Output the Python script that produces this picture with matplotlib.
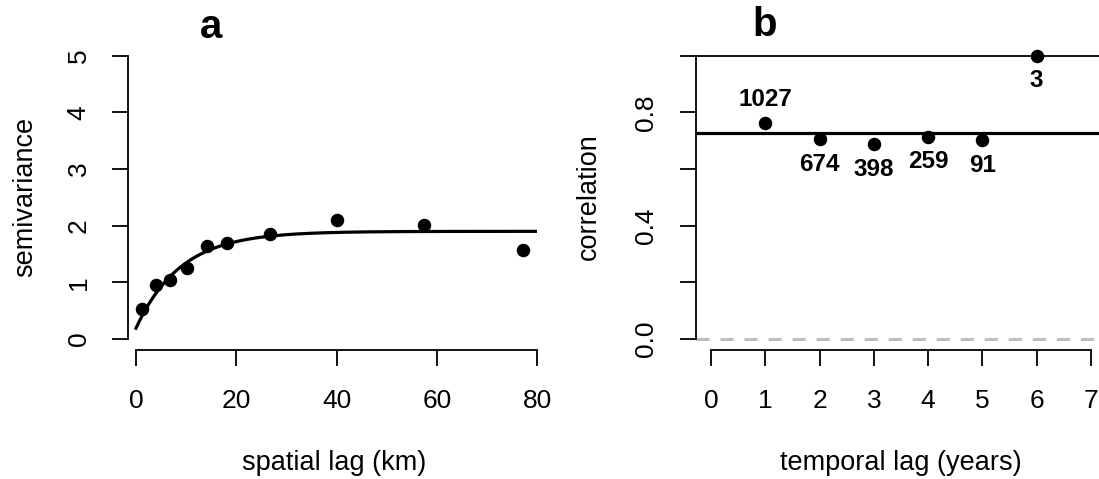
import numpy as np
import matplotlib; matplotlib.use("Agg"); import matplotlib.pyplot as plt

# panel a: empirical semivariogram + exponential model fit
dist_km = [1.3, 4.0, 6.7, 10.2, 14.1, 18.1, 26.8, 40.0, 57.4, 77.1]
semivar = [0.53, 0.96, 1.04, 1.25, 1.65, 1.70, 1.86, 2.10, 2.02, 1.57]
nugget, psill, range_km = 0.19, 1.71, 8.9

# panel b: correlation by temporal lag, with number of pairs
lag_years = [1, 2, 3, 4, 5, 6]
corr = [0.761, 0.706, 0.687, 0.714, 0.702, 1.0]
n_pairs = [1027, 674, 398, 259, 91, 3]
mean_corr = 0.728

W, H = 1099, 479
plt.rcParams.update({"font.family": ["Liberation Sans", "DejaVu Sans"],
                     "lines.scale_dashes": False})
fig = plt.figure(figsize=(W/100, H/100), dpi=100)

def box(l, t, r, b):  # pixel box -> figure fraction
    return [l/W, 1-b/H, (r-l)/W, (b-t)/H]

def style(ax):
    for s in ("top", "right"): ax.spines[s].set_visible(False)
    for s in ("left", "bottom"): ax.spines[s].set_linewidth(1.3)
    ax.tick_params(length=11.5, width=1.3, labelsize=19)
    ax.tick_params(axis="x", pad=16.5)
    ax.tick_params(axis="y", pad=15.5, labelrotation=90)
    for t in ax.get_yticklabels(): t.set_va("center")

# ---- a
ax = fig.add_axes(box(128.3, 44.4, 537.3, 350.3))
h = np.linspace(0, 80, 300)
ax.plot(h, nugget + psill*(1-np.exp(-h/range_km)), color="k", lw=2.3)
ax.plot(dist_km, semivar, "o", color="k", ms=8.7)
ax.set_xlim(-1.53, 80.0); ax.set_ylim(-0.2, 5.2)
ax.set_xticks([0, 20, 40, 60, 80]); ax.set_yticks([0, 1, 2, 3, 4, 5])
ax.spines["left"].set_bounds(0, 5); ax.spines["bottom"].set_bounds(0, 80)
style(ax)
fig.text(211/W, 1-27/H, "a", fontsize=29, fontweight="bold", ha="center", va="center")
fig.text(334/W, 1-463/H, "spatial lag (km)", fontsize=19.5, ha="center", va="center")
fig.text(25/W, 1-197/H, "semivariance", fontsize=19.5, rotation=90, ha="center", va="center")

# ---- b
bx = fig.add_axes(box(696, 44.4, 1106, 350.3))
bx.axhline(0, color="#BEBEBE", lw=2.2, ls=(0, (9.4, 7.9)))
bx.axhline(1.0, color="k", lw=1.3)
bx.axhline(mean_corr, color="k", lw=2.3)
bx.plot(lag_years, corr, "o", color="k", ms=8.7, clip_on=False)
above = [True, False, False, False, False, False]
for x, y, n, up in zip(lag_years, corr, n_pairs, above):
    bx.annotate(str(n), (x, y), xytext=(0, 17 if up else -18), textcoords="offset points",
                ha="center", va="center", fontsize=17.5, fontweight="bold")
bx.set_xlim(-0.28, 7.28); bx.set_ylim(-0.04, 1.04)
bx.set_xticks(range(8)); bx.set_yticks([0, 0.2, 0.4, 0.6, 0.8, 1.0])
bx.set_yticklabels(["0.0", "", "0.4", "", "0.8", ""])
bx.spines["left"].set_bounds(0, 1); bx.spines["bottom"].set_bounds(0, 7)
style(bx)
fig.text(765/W, 1-25/H, "b", fontsize=29, fontweight="bold", ha="center", va="center")
fig.text(901/W, 1-463/H, "temporal lag (years)", fontsize=19.5, ha="center", va="center")
fig.text(589/W, 1-197/H, "correlation", fontsize=19.5, rotation=90, ha="center", va="center")

fig.savefig("out.png", dpi=100)
